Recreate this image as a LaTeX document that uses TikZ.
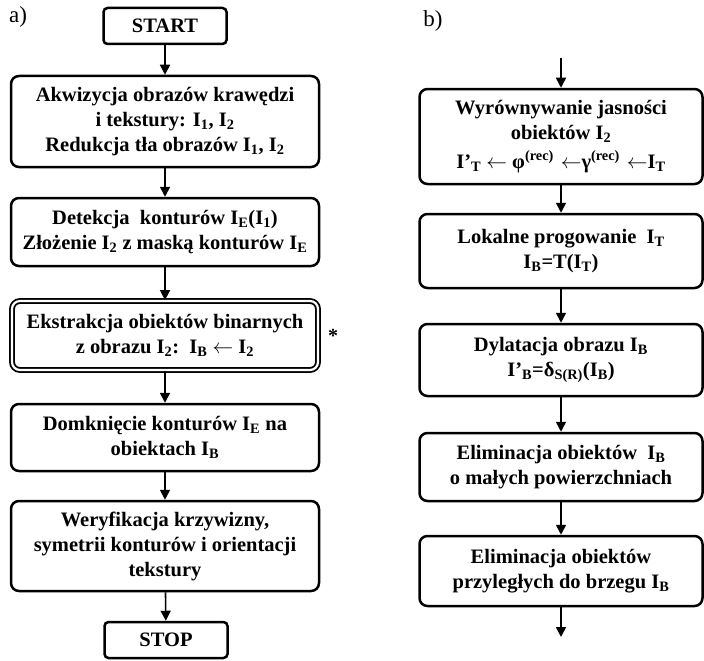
\documentclass[tikz,border=0pt]{standalone}
\usepackage{fontspec}
\setmainfont{Liberation Serif}
\usetikzlibrary{arrows.meta}

\begin{document}
\begin{tikzpicture}[x=1pt,y=-1pt,
  box/.style={draw,line width=2.5pt,rounded corners=8pt,align=center,inner sep=0pt,
    font=\fontsize{20.5}{25}\selectfont\bfseries},
  term/.style={box,rounded corners=4pt,minimum width=123pt,minimum height=36pt},
  flow/.style={-{Triangle[width=10pt,length=10pt]},line width=1.6pt}]

\useasboundingbox (0,0) rectangle (704,661);

\node[font=\fontsize{23}{23}\selectfont] (lbla) at (18,17) {a)};
\node[font=\fontsize{23}{23}\selectfont] (lblb) at (433,21) {b)};

\node[term] (start) at (165,26) {START};
\node[box,minimum width=308pt,minimum height=91pt] (akw) at (165,121.5)
  {Akwizycja obrazów krawędzi\\ i tekstury: I\textsubscript{1}, I\textsubscript{2}\\
   Redukcja tła obrazów I\textsubscript{1}, I\textsubscript{2}};
\node[box,minimum width=308pt,minimum height=68pt] (det) at (165,232)
  {Detekcja\ \ konturów I\textsubscript{E}(I\textsubscript{1})\\
   Złożenie I\textsubscript{2} z maską konturów I\textsubscript{E}};
\node[box,line width=1.8pt,double,double distance=2.2pt,minimum width=306pt,minimum height=69pt] (ekst) at (165,335.5)
  {Ekstrakcja obiektów binarnych\\
   z obrazu I\textsubscript{2}:\ \ I\textsubscript{B} $\leftarrow$ I\textsubscript{2}};
\node[font=\fontsize{20}{20}\selectfont\bfseries] (gw) at (333,336) {*};
\node[box,minimum width=308pt,minimum height=67pt] (domk) at (165,437.5)
  {Domknięcie konturów I\textsubscript{E} na\\ obiektach I\textsubscript{B}};
\node[box,minimum width=308pt,minimum height=90pt] (wer) at (165,546)
  {Weryfikacja krzywizny,\\ symetrii konturów i orientacji\\ tekstury};
\node[term] (stop) at (166,640) {STOP};

\draw[flow] (start) -- (akw);
\draw[flow] (akw) -- (det);
\draw[flow] (det) -- (ekst);
\draw[flow] (ekst) -- (domk);
\draw[flow] (domk) -- (wer);
\draw[flow] (wer) -- (stop);

\coordinate (wej) at (561,58);
\node[box,minimum width=283pt,minimum height=95pt] (wyr) at (561,136.5)
  {Wyrównywanie jasności\\ obiektów I\textsubscript{2}\\[4pt]
   I’\textsubscript{T} $\leftarrow$ φ\textsuperscript{(rec)}\,\,$\leftarrow$γ\textsuperscript{(rec)}\,\,$\leftarrow$I\textsubscript{T}};
\node[box,minimum width=283pt,minimum height=74pt] (prog) at (561,251)
  {Lokalne progowanie\ \ I\textsubscript{T}\\ I\textsubscript{B}=T(I\textsubscript{T})};
\node[box,minimum width=283pt,minimum height=72pt] (dyl) at (561,360)
  {Dylatacja obrazu I\textsubscript{B}\\ I’\textsubscript{B}=δ\textsubscript{S(R)}(I\textsubscript{B})};
\node[box,minimum width=283pt,minimum height=68pt] (elm) at (561,467)
  {Eliminacja obiektów\ \ I\textsubscript{B}\\ o małych powierzchniach};
\node[box,minimum width=283pt,minimum height=70pt] (elb) at (561,571)
  {Eliminacja obiektów\\ przyległych do brzegu I\textsubscript{B}};
\coordinate (wyj) at (561,637);

\draw[flow] (wej) -- (wyr);
\draw[flow] (wyr) -- (prog);
\draw[flow] (prog) -- (dyl);
\draw[flow] (dyl) -- (elm);
\draw[flow] (elm) -- (elb);
\draw[flow] (elb) -- (wyj);

\end{tikzpicture}
\end{document}
